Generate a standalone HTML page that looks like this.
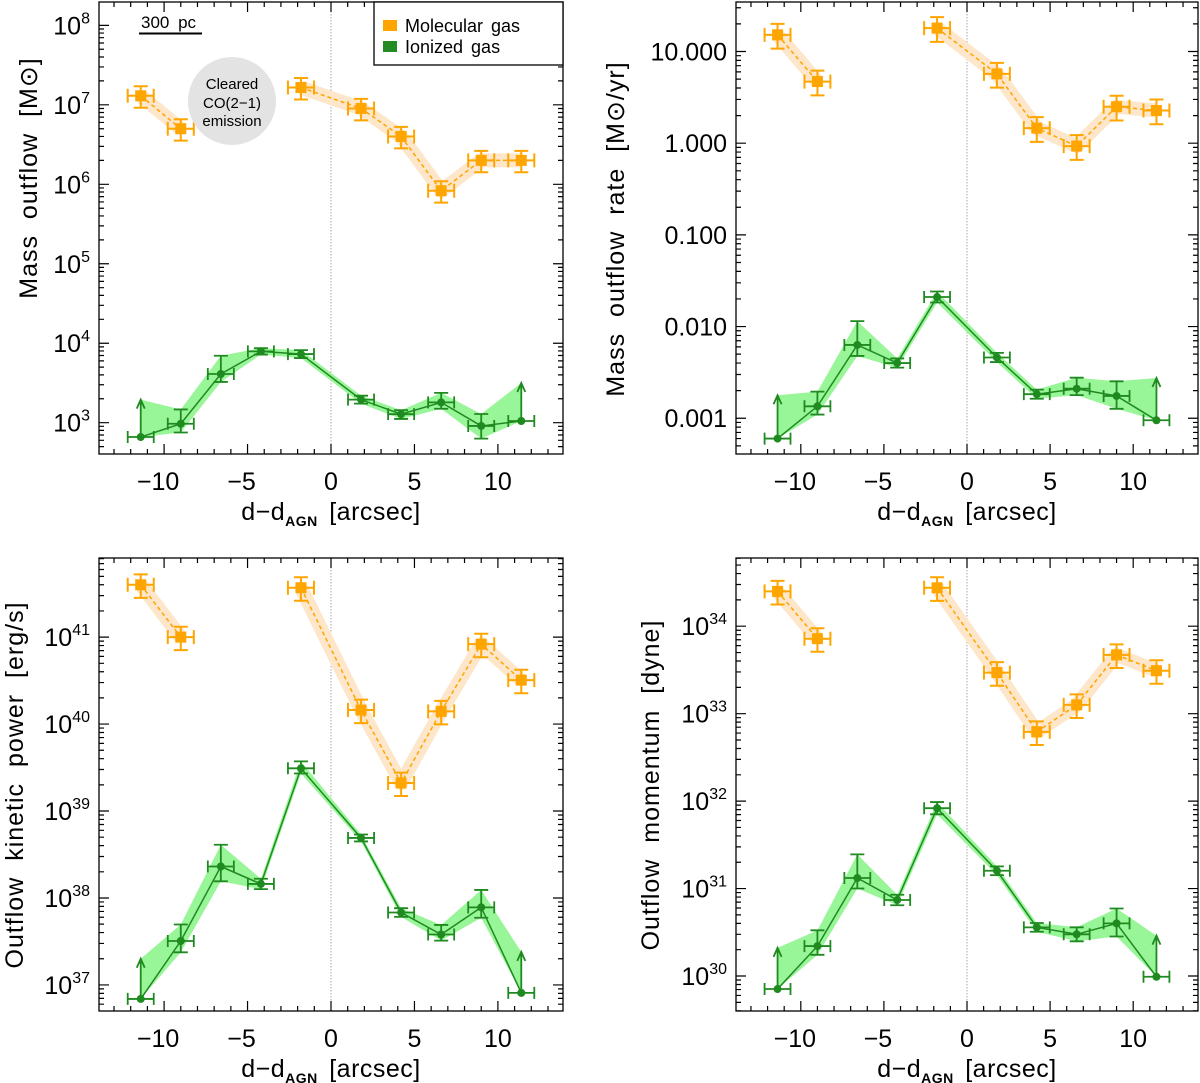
<!DOCTYPE html>
<html><head><meta charset="utf-8"><style>
html,body{margin:0;padding:0;background:#fff;}
svg{display:block;font-family:"Liberation Sans",sans-serif;}
</style></head><body>
<svg id="fig" width="1200" height="1083" viewBox="0 0 1200 1083" xmlns="http://www.w3.org/2000/svg"></svg>
<script>
const xPos=[-11.4,-9.0,-6.6,-4.2,-1.8,1.8,4.2,6.6,9.0,11.4];
const xTicks=[-10,-5,0,5,10];
const xTickLabels=["\u221210","\u22125","0","5","10"];

const p1Mol=[1.3e7,5e6,null,null,1.65e7,9e6,4e6,8.3e5,2e6,2e6];
const p1Ion=[660,970,4100,7900,7300,1950,1280,1800,910,1050];
const p1IonErrHi=[0,0.18,0.23,0.04,0.05,0.05,0.05,0.12,0.15,0];
const p1IonErrLo=[0,0.11,0.10,0.04,0.05,0.05,0.06,0.08,0.16,0];
const p1Arrow=[1950,null,null,null,null,null,null,null,null,3160];
const p1Ticks=[3,4,5,6,7,8];

const p2Mol=[15.2,4.7,null,null,18,5.7,1.46,0.93,2.5,2.27];
const p2Ion=[6e-4,1.35e-3,6.3e-3,4.0e-3,0.021,4.6e-3,1.83e-3,2.1e-3,1.75e-3,9.5e-4];
const p2IonErrHi=[0,0.16,0.26,0.05,0.06,0.05,0.05,0.12,0.16,0];
const p2IonErrLo=[0,0.09,0.12,0.05,0.06,0.05,0.05,0.07,0.14,0];
const p2Arrow=[1.78e-3,null,null,null,null,null,null,null,null,2.75e-3];
const p2Ticks=[-3,-2,-1,0,1];
const p2TickLabels=["0.001","0.010","0.100","1.000","10.000"];

const p3Mol=[4e41,1e41,null,null,3.7e41,1.45e40,2.1e39,1.4e40,8.3e40,3.2e40];
const p3Ion=[6.9e36,3.2e37,2.3e38,1.45e38,3.1e39,4.9e38,6.8e37,3.8e37,7.8e37,8.1e36];
const p3IonErrHi=[0,0.19,0.25,0.06,0.08,0.04,0.05,0.11,0.20,0];
const p3IonErrLo=[0,0.13,0.17,0.06,0.06,0.04,0.05,0.07,0.12,0];
const p3Arrow=[2e37,null,null,null,null,null,null,null,null,2.4e37];
const p3Ticks=[37,38,39,40,41];

const p4Mol=[2.5e34,7.2e33,null,null,2.75e34,2.95e33,6.2e32,1.26e33,4.7e33,3.1e33];
const p4Ion=[7.1e29,2.2e30,1.32e31,7.4e30,8.3e31,1.6e31,3.6e30,3.0e30,4.0e30,9.8e29];
const p4IonErrHi=[0,0.18,0.27,0.06,0.07,0.05,0.05,0.08,0.17,0];
const p4IonErrLo=[0,0.10,0.12,0.06,0.07,0.05,0.05,0.08,0.15,0];
const p4Arrow=[2.1e30,null,null,null,null,null,null,null,null,2.9e30];
const p4Ticks=[30,31,32,33,34];

const NS="http://www.w3.org/2000/svg";
const svg=document.getElementById('fig');
function el(tag,attrs,parent){const e=document.createElementNS(NS,tag);for(const k in attrs)e.setAttribute(k,attrs[k]);(parent||svg).appendChild(e);return e;}

const ORANGE="#ffa500",ORBAND="#fde6c9",GREEN="#1f8a1f",GRBAND="#98f598";
const MOL_EHI=0.12,MOL_ELO=0.15,XERR=0.78;

function drawPanel(cfg){
  const g=el('g',{});
  
  
  const L=cfg.x0,R=cfg.x1,T=cfg.y0,B=cfg.y1;
  const xmin=-13.9,xmax=13.9;
  const sx=v=>L+(v-xmin)/(xmax-xmin)*(R-L);
  const sy=v=>B-(Math.log10(v)-cfg.lmin)/(cfg.lmax-cfg.lmin)*(B-T);
  const syl=l=>B-(l-cfg.lmin)/(cfg.lmax-cfg.lmin)*(B-T);
  const clip='clip'+cfg.id;
  const cp=el('clipPath',{id:clip},g);el('rect',{x:L,y:T,width:R-L,height:B-T},cp);
  const pg=el('g',{'clip-path':`url(#${clip})`},g);
  const zl=el('line',{x1:sx(0),x2:sx(0),y1:T,y2:B,stroke:"#aaa","stroke-width":1,"stroke-dasharray":"1.5,1.5"},pg);
  
  
  const mol=cfg.mol;let segs=[],cur=[];
  mol.forEach((v,i)=>{if(v==null){if(cur.length)segs.push(cur);cur=[];}else cur.push([sx(xPos[i]),sy(v)]);});
  if(cur.length)segs.push(cur);
  segs.forEach(s=>{
    const pts=s.map(p=>p.join(',')).join(' ');
    const b=el('polyline',{points:pts,fill:"none",stroke:ORBAND,"stroke-width":14,"stroke-linejoin":"round","stroke-linecap":"butt"},pg);
    
    
  });
  const ion=cfg.ion;
  const up=ion.map((v,i)=>{let l=Math.log10(v)+cfg.ehi[i];if(cfg.arrow[i]!=null)l=Math.max(l,Math.log10(cfg.arrow[i]));return [sx(xPos[i]),syl(l)];});
  const lo=ion.map((v,i)=>[sx(xPos[i]),syl(Math.log10(v)-cfg.elo[i])]);
  const poly=up.concat(lo.slice().reverse()).map(p=>p.join(',')).join(' ');
  const band=el('polygon',{points:poly,fill:GRBAND,stroke:"none"},pg);
  
  
  segs.forEach(s=>{
    const ln=el('polyline',{points:s.map(p=>p.join(',')).join(' '),fill:"none",stroke:ORANGE,"stroke-width":1.5,"stroke-dasharray":"4,3"},pg);
    
    
  });
  const il=el('polyline',{points:ion.map((v,i)=>sx(xPos[i])+','+sy(v)).join(' '),fill:"none",stroke:GREEN,"stroke-width":1.5},pg);
  
  
  mol.forEach((v,i)=>{
    if(v==null)return;
    const x=sx(xPos[i]),y=sy(v),yt=syl(Math.log10(v)+MOL_EHI),yb=syl(Math.log10(v)-MOL_ELO),xl=sx(xPos[i]-XERR),xr=sx(xPos[i]+XERR);
    const pt=el('g',{stroke:ORANGE,"stroke-width":2,fill:"none"},pg);
    
    
    el('path',{d:`M${x},${yt}V${yb}M${x-7},${yt}H${x+7}M${x-7},${yb}H${x+7}M${xl},${y}H${xr}M${xl},${y-7}V${y+7}M${xr},${y-7}V${y+7}`},pt);
    el('rect',{x:x-5.5,y:y-5.5,width:11,height:11,fill:ORANGE,stroke:"none"},pt);
  });
  ion.forEach((v,i)=>{
    const x=sx(xPos[i]),y=sy(v),xl=sx(xPos[i]-XERR),xr=sx(xPos[i]+XERR);
    const pt=el('g',{stroke:GREEN,"stroke-width":1.8,fill:"none"},pg);
    
    
    let d=`M${xl},${y}H${xr}M${xl},${y-6}V${y+6}M${xr},${y-6}V${y+6}`;
    if(cfg.ehi[i]>0||cfg.elo[i]>0){
      const yt=syl(Math.log10(v)+cfg.ehi[i]),yb=syl(Math.log10(v)-cfg.elo[i]);
      d+=`M${x},${yt}V${yb}M${x-7},${yt}H${x+7}M${x-7},${yb}H${x+7}`;
    }
    if(cfg.arrow[i]!=null){
      const ya=sy(cfg.arrow[i]);
      d+=`M${x},${y}V${ya}M${x-4},${ya+9}L${x},${ya}L${x+4},${ya+9}`;
    }
    el('path',{d},pt);
    el('circle',{cx:x,cy:y,r:4,fill:GREEN,stroke:"none"},pt);
  });
  el('rect',{x:L,y:T,width:R-L,height:B-T,fill:"none",stroke:"#000","stroke-width":1.3},g);
  let td="";
  for(let v=-13;v<=13;v++){const x=sx(v);const len=(v%5===0)?10:5;td+=`M${x},${B}V${B-len}M${x},${T}V${T+len}`;}
  for(let d=Math.floor(cfg.lmin);d<=Math.ceil(cfg.lmax);d++){
    for(let m=1;m<10;m++){const l=d+Math.log10(m);if(l<cfg.lmin||l>cfg.lmax)continue;const y=syl(l);const len=m===1?10:5;td+=`M${L},${y}H${L+len}M${R},${y}H${R-len}`;}
  }
  el('path',{d:td,stroke:"#000","stroke-width":1.2,fill:"none"},g);
  xTicks.forEach((v,i)=>{
    const t=el('text',{x:sx(v)-(v<0?6:0),y:B+36,"font-size":25,"text-anchor":"middle",fill:"#000"},g);
    t.textContent=xTickLabels[i];
    
    
  });
  cfg.ticks.forEach((l,i)=>{
    const y=syl(l);
    const t=el('text',{x:L-9,y:y+9,"font-size":25,"text-anchor":"end",fill:"#000"},g);
    if(cfg.tickLabels){t.textContent=cfg.tickLabels[i];}
    else{t.textContent="10";const s=el('tspan',{dy:-11,"font-size":16},t);s.textContent=String(l);}
    
    
  });
  const xt=el('text',{x:(L+R)/2,y:B+66,"font-size":25,"text-anchor":"middle",fill:"#000","letter-spacing":"0.5","word-spacing":"4"},g);
  
  
  xt.appendChild(document.createTextNode("d\u2212d"));
  const sb=el('tspan',{dy:6,"font-size":14,"font-weight":"bold"},xt);sb.textContent="AGN";
  const rest=el('tspan',{dy:-6},xt);rest.textContent=" [arcsec]";
  const yt=el('text',{x:0,y:0,"font-size":25,"text-anchor":"middle",fill:"#000","letter-spacing":"1","word-spacing":"8",transform:`translate(${cfg.ytx},${cfg.yty}) rotate(-90)`},g);
  yt.textContent=cfg.ytitle;
  
  
  return {g,sx,sy};
}

drawPanel({id:1,name:'panel-mass-outflow',x0:99,x1:563,y0:2,y1:454,lmin:2.606,lmax:8.294,mol:p1Mol,ion:p1Ion,ehi:p1IonErrHi,elo:p1IonErrLo,arrow:p1Arrow,ticks:p1Ticks,ytitle:"Mass outflow [M\u2299]",ytx:37,yty:178});
drawPanel({id:2,name:'panel-mass-outflow-rate',x0:736,x1:1198,y0:2,y1:454,lmin:-3.39,lmax:1.54,mol:p2Mol,ion:p2Ion,ehi:p2IonErrHi,elo:p2IonErrLo,arrow:p2Arrow,ticks:p2Ticks,tickLabels:p2TickLabels,ytitle:"Mass outflow rate [M\u2299/yr]",ytx:624,yty:229});
drawPanel({id:3,name:'panel-kinetic-power',x0:99,x1:563,y0:558,y1:1011,lmin:36.70,lmax:41.91,mol:p3Mol,ion:p3Ion,ehi:p3IonErrHi,elo:p3IonErrLo,arrow:p3Arrow,ticks:p3Ticks,ytitle:"Outflow kinetic power [erg/s]",ytx:23,yty:785});
drawPanel({id:4,name:'panel-momentum',x0:736,x1:1198,y0:558,y1:1011,lmin:29.60,lmax:34.78,mol:p4Mol,ion:p4Ion,ehi:p4IonErrHi,elo:p4IonErrLo,arrow:p4Arrow,ticks:p4Ticks,ytitle:"Outflow momentum [dyne]",ytx:659,yty:785});

const ann=el('g',{});


const circ=el('circle',{cx:232,cy:101,r:44,fill:"#e3e3e3"},ann);


[["Cleared",89],["CO(2\u22121)",108],["emission",126]].forEach(([s,y])=>{
  const t=el('text',{x:232,y:y,"font-size":15,"text-anchor":"middle",fill:"#000"},ann);t.textContent=s;
  
  
});
const sbt=el('text',{x:141,y:28,"font-size":17,fill:"#000","word-spacing":"4"},ann);sbt.textContent="300 pc";


const sbl=el('line',{x1:139,x2:202,y1:33.5,y2:33.5,stroke:"#000","stroke-width":2},ann);


const lg=el('g',{});


el('rect',{x:374,y:2,width:189,height:63,fill:"#fff",stroke:"#000","stroke-width":1.3},lg);
const le1=el('g',{},lg);


el('rect',{x:383,y:20,width:14,height:11,fill:ORANGE},le1);
const lt1=el('text',{x:405,y:32,"font-size":18,fill:"#000","word-spacing":"3"},le1);lt1.textContent="Molecular gas";
const le2=el('g',{},lg);


el('rect',{x:383,y:41,width:14,height:11,fill:"#228b22"},le2);
const lt2=el('text',{x:405,y:53,"font-size":18,fill:"#000","word-spacing":"3"},le2);lt2.textContent="Ionized gas";
</script>
</body></html>
